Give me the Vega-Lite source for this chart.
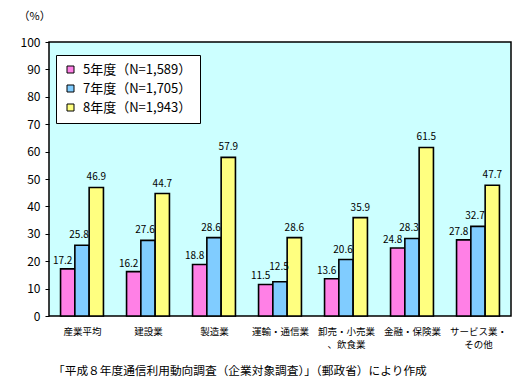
{
  "$schema": "https://vega.github.io/schema/vega-lite/v6.json",
  "width": 462,
  "height": 274,
  "autosize": "none",
  "padding": {"left": 49, "top": 42, "right": 19, "bottom": 74},
  "background": "white",
  "config": {
    "font": "Noto Sans CJK JP",
    "view": {"fill": "#ccffff", "stroke": "black", "strokeWidth": 1.5},
    "axis": {"labelColor": "black", "tickColor": "black", "domain": false, "grid": false, "labelFont": "Noto Sans CJK JP"},
    "legend": {"strokeColor": "black", "fillColor": "white", "padding": 8}
  },
  "title": {
    "text": "「平成８年度通信利用動向調査（企業対象調査）」（郵政省）により作成",
    "orient": "bottom",
    "anchor": "start",
    "dx": 35,
    "offset": 17,
    "fontSize": 11.7,
    "fontWeight": "normal",
    "color": "black",
    "font": "Noto Sans CJK JP"
  },
  "data": {
    "values": [
      {"業種": "産業平均", "年度": "5年度（N=1,589）", "値": 17.2},
      {"業種": "産業平均", "年度": "7年度（N=1,705）", "値": 25.8},
      {"業種": "産業平均", "年度": "8年度（N=1,943）", "値": 46.9},
      {"業種": "建設業", "年度": "5年度（N=1,589）", "値": 16.2},
      {"業種": "建設業", "年度": "7年度（N=1,705）", "値": 27.6},
      {"業種": "建設業", "年度": "8年度（N=1,943）", "値": 44.7},
      {"業種": "製造業", "年度": "5年度（N=1,589）", "値": 18.8},
      {"業種": "製造業", "年度": "7年度（N=1,705）", "値": 28.6},
      {"業種": "製造業", "年度": "8年度（N=1,943）", "値": 57.9},
      {"業種": "運輸・通信業", "年度": "5年度（N=1,589）", "値": 11.5},
      {"業種": "運輸・通信業", "年度": "7年度（N=1,705）", "値": 12.5},
      {"業種": "運輸・通信業", "年度": "8年度（N=1,943）", "値": 28.6},
      {"業種": "卸売・小売業、飲食業", "年度": "5年度（N=1,589）", "値": 13.6},
      {"業種": "卸売・小売業、飲食業", "年度": "7年度（N=1,705）", "値": 20.6},
      {"業種": "卸売・小売業、飲食業", "年度": "8年度（N=1,943）", "値": 35.9},
      {"業種": "金融・保険業", "年度": "5年度（N=1,589）", "値": 24.8},
      {"業種": "金融・保険業", "年度": "7年度（N=1,705）", "値": 28.3},
      {"業種": "金融・保険業", "年度": "8年度（N=1,943）", "値": 61.5},
      {"業種": "サービス業・その他", "年度": "5年度（N=1,589）", "値": 27.8},
      {"業種": "サービス業・その他", "年度": "7年度（N=1,705）", "値": 32.7},
      {"業種": "サービス業・その他", "年度": "8年度（N=1,943）", "値": 47.7}
    ]
  },
  "encoding": {
    "x": {
      "field": "業種",
      "type": "nominal",
      "sort": null,
      "scale": {"paddingInner": 0.35, "paddingOuter": 0.175},
      "axis": {
        "title": null,
        "labelAngle": 0,
        "labelFontSize": 9.5,
        "labelLineHeight": 13,
        "labelBaseline": "top",
        "labelPadding": 14,
        "tickBand": "extent",
        "tickSize": -4,
        "labelExpr": "datum.label == '卸売・小売業、飲食業' ? ['卸売・小売業', '、飲食業'] : datum.label == 'サービス業・その他' ? ['サービス業・', 'その他'] : datum.label"
      }
    },
    "xOffset": {"field": "年度", "type": "nominal", "scale": {"paddingInner": 0, "paddingOuter": 0}},
    "y": {
      "field": "値",
      "type": "quantitative",
      "scale": {"domain": [0, 100], "nice": false},
      "axis": {
        "values": [0, 10, 20, 30, 40, 50, 60, 70, 80, 90, 100],
        "tickSize": 4,
        "labelPadding": 5,
        "labelFontSize": 12,
        "title": "（%）",
        "titleAngle": 0,
        "titleAlign": "left",
        "titleBaseline": "middle",
        "titleX": -31,
        "titleY": -26,
        "titleFontSize": 11,
        "titleFontWeight": "normal",
        "titleColor": "black"
      }
    }
  },
  "layer": [
    {
      "mark": {"type": "bar", "stroke": "black", "strokeWidth": 1.6},
      "encoding": {
        "color": {
          "field": "年度",
          "type": "nominal",
          "scale": {"range": ["#ff80e6", "#80ccff", "#ffff80"]},
          "legend": {
            "title": null,
            "orient": "none",
            "legendX": 7,
            "legendY": 13,
            "symbolType": "square",
            "symbolSize": 49,
            "symbolStrokeColor": "black",
            "symbolStrokeWidth": 1,
            "labelFontSize": 13,
            "labelColor": "black",
            "labelFont": "Noto Sans CJK JP",
            "rowPadding": 5,
            "labelOffset": 6
          }
        }
      }
    },
    {
      "transform": [{"filter": "datum['年度'] == '5年度（N=1,589）'"}],
      "mark": {"type": "text", "baseline": "alphabetic", "dy": -5, "dx": -5, "fontSize": 10, "color": "black"},
      "encoding": {
        "text": {"field": "値", "type": "quantitative", "format": ".1f"}
      }
    },
    {
      "transform": [{"filter": "datum['年度'] == '7年度（N=1,705）' && datum['業種'] != '運輸・通信業'"}],
      "mark": {"type": "text", "baseline": "alphabetic", "dy": -7, "dx": -3, "fontSize": 10, "color": "black"},
      "encoding": {
        "text": {"field": "値", "type": "quantitative", "format": ".1f"}
      }
    },
    {
      "transform": [{"filter": "datum['年度'] == '7年度（N=1,705）' && datum['業種'] == '運輸・通信業'"}],
      "mark": {"type": "text", "baseline": "alphabetic", "dy": -12, "dx": -1, "fontSize": 10, "color": "black"},
      "encoding": {
        "text": {"field": "値", "type": "quantitative", "format": ".1f"}
      }
    },
    {
      "transform": [{"filter": "datum['年度'] == '8年度（N=1,943）'"}],
      "mark": {"type": "text", "baseline": "alphabetic", "dy": -7, "dx": 0, "fontSize": 10, "color": "black"},
      "encoding": {
        "text": {"field": "値", "type": "quantitative", "format": ".1f"}
      }
    }
  ]
}
